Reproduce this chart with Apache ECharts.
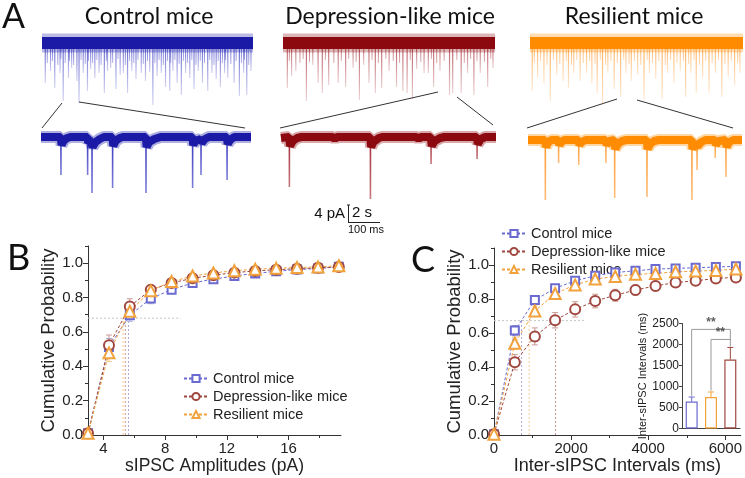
<!DOCTYPE html>
<html>
<head>
<meta charset="utf-8">
<title>sIPSC cumulative probability</title>
<script src="https://cdn.jsdelivr.net/npm/echarts@6/dist/echarts.min.js"></script>
<style>
    html, body { margin: 0; padding: 0; background: #fff; }
    #main { width: 745px; height: 478px; }
</style>
</head>
<body>
<div id="main"></div>
<script>
// ---- data ----
var groups = ['Control mice', 'Depression-like mice', 'Resilient mice'];

// panel A, long traces: [position %, spike depth]
var controlTopSpikes = [[1.5,40],[4,28],[6,45],[8.5,30],[10,58],[12.5,35],[14,25],[16.5,38],[17.5,60],[19.5,30],[21.5,48],[23,26],[25,35],[27,30],[29.5,50],[31,28],[32.5,25],[35,46],[37,32],[38.5,30],[40.5,50],[42.5,28],[44.5,36],[47,30],[49,38],[51,29],[52.5,62],[54.5,33],[56.5,30],[58.5,44],[60.5,48],[62,28],[64,40],[66,52],[68,30],[70,35],[72,46],[74,28],[76,40],[78.5,48],[80.5,30],[82.5,36],[84.5,44],[86.5,30],[88,35],[91,40],[93.5,53],[95.5,30],[97,52],[99,28]];
var controlTopSmall = [[2.5,20],[5,18],[7.5,22],[9,16],[11,20],[13,18],[15,22],[18.5,17],[20.5,21],[22,18],[24,20],[26,17],[28,22],[30.5,18],[33.5,20],[36,16],[39.5,22],[41.5,18],[43.5,20],[45.5,17],[48,21],[50,18],[53.5,20],[55.5,17],[57.5,22],[59.5,18],[61,20],[63,17],[65,21],[67,18],[69,20],[71,17],[73,22],[75,18],[77,20],[79.5,17],[81.5,22],[83.5,18],[85.5,20],[87,17],[89.5,21],[92,18],[94.5,20],[96,17],[98,22]];
var depressionTopSpikes = [[2,45],[4,33],[6,28],[11,58],[14,22],[16.5,40],[18.5,50],[21.5,42],[26,40],[29.5,44],[33,25],[36,57],[38,22],[40.5,40],[43.5,50],[46.5,45],[50,28],[53.5,44],[56.5,48],[58.5,50],[61,56],[63,26],[66.5,30],[68.5,30],[71,44],[74,28],[78.5,52],[80,50],[84,50],[87,30],[90,52],[93,30],[96.5,44],[99,25]];
var depressionTopSmall = [[3,18],[8,20],[9.5,16],[12.5,19],[20,17],[24,20],[27.5,18],[31,16],[34.5,19],[42,17],[45,20],[48.5,16],[52,18],[55,20],[60,17],[65,19],[70,16],[72.5,20],[76,18],[82,17],[85.5,20],[88.5,16],[91.5,18],[95,19],[98,16]];
var resilientTopSpikes = [[1,48],[3.5,35],[6.5,40],[9.5,58],[12.5,32],[15.5,38],[18,45],[20.5,30],[23.5,38],[26.5,30],[29,40],[31.5,50],[34,62],[36.5,30],[39.5,46],[42.5,54],[45,30],[47.5,38],[50.5,32],[53.5,57],[56,30],[59,36],[62,56],[64.5,30],[67.5,40],[70.5,28],[73,54],[75.5,30],[78,50],[81,35],[84,50],[87,30],[90,54],[93,34],[96,42],[98.5,30]];
var resilientTopSmall = [[2,20],[5,18],[8,22],[11,17],[14,21],[17,18],[19.5,22],[22,17],[25,20],[28,18],[30.5,21],[33,17],[35.5,22],[38,18],[41,20],[44,17],[46.5,21],[49,18],[52,22],[55,17],[57.5,20],[60.5,18],[63.5,22],[66,17],[69,20],[72,18],[74.5,21],[77,17],[79.5,22],[82.5,18],[85.5,20],[88.5,17],[91.5,21],[94.5,18],[97.5,20]];

// panel A, expanded traces: events [position %, depth] and slow baseline [position %, level]
var controlBottomSpikes = [[9.5,38],[22.2,38],[24.3,56],[34.1,51],[50,56],[72.2,51],[76.2,38],[88.6,43]];
var controlBottomBase = [[0,0],[9.4,0],[9.8,-8],[11,-3],[12.5,-1],[14,0],[22.1,0],[22.5,-6],[23.5,-3],[24.2,-2],[24.6,-10],[26,-5],[28,-2],[30,0],[34,0],[34.4,-9],[35.5,-4],[37.5,-1],[39,0],[49.9,0],[50.3,-10],[51.5,-5],[54,-2],[57,0],[72.1,0],[72.5,-8],[73.5,-4],[76.1,-2],[76.5,-6],[78,-2],[80,0],[88.5,0],[88.9,-7],[90,-3],[92,0],[100,0]];
var depressionBottomSpikes = [[3.9,50],[41.6,62],[69.8,27],[91.2,22]];
var depressionBottomBase = [[0,-1],[3.8,0],[4.2,-9],[5.5,-4],[7.5,-1],[9.5,0],[24,0],[25,-2],[26,0],[41.5,0],[41.9,-10],[43,-5],[45.5,-1],[47,0],[63,0],[64,-2],[65,0],[69.7,0],[70.1,-9],[71.5,-4],[74,-1],[76,0],[91.1,0],[91.5,-7],[93,-2],[95,0],[100,0]];
var resilientBottomSpikes = [[8.1,60],[14.3,23],[23.7,25],[36.4,23],[40.5,58],[55.6,57],[76.6,60],[79,30],[87.5,18],[92.5,37]];
var resilientBottomBase = [[0,0],[8,0],[8.4,-7],[9.5,-2],[11,0],[14.2,0],[14.6,-5],[15.5,-2],[17,0],[23.6,0],[24,-5],[25,-2],[27,0],[36.3,0],[36.7,-5],[38,-1],[40.4,0],[40.8,-9],[42,-4],[44,-1],[46,0],[55.5,0],[55.9,-9],[57,-4],[59,-1],[61,0],[76.5,0],[76.9,-9],[78,-4],[78.9,-2],[79.3,-6],[81,-2],[83,0],[87.4,0],[87.8,-5],[89,-1],[92.4,0],[92.8,-7],[94,-2],[96,0],[100,0]];

// panel B: sIPSC amplitudes (pA) vs cumulative probability
var bX = [3, 4.36, 5.71, 7.07, 8.42, 9.78, 11.13, 12.49, 13.84, 15.2, 16.55, 17.91, 19.26];
var bControl = [0.01, 0.512, 0.697, 0.794, 0.846, 0.885, 0.907, 0.926, 0.94, 0.953, 0.963, 0.969, 0.979];
var bDepression = [0.01, 0.522, 0.748, 0.845, 0.885, 0.912, 0.93, 0.945, 0.955, 0.962, 0.968, 0.973, 0.978];
var bResilient = [0.01, 0.478, 0.72, 0.84, 0.893, 0.925, 0.943, 0.956, 0.965, 0.97, 0.975, 0.978, 0.985];
var bControlErr = [0, 0.05, 0.035, 0.03, 0.02, 0.015, 0.012, 0.01, 0.008, 0.007, 0.006, 0.005, 0.005];
var bDepressionErr = [0, 0.06, 0.045, 0.025, 0.02, 0.015, 0.012, 0.01, 0.008, 0.007, 0.006, 0.005, 0.005];
var bResilientErr = [0, 0.05, 0.03, 0.02, 0.015, 0.012, 0.01, 0.008, 0.007, 0.006, 0.005, 0.005, 0.004];
var bMedianLevel = 0.68;
var bMedianX = [5.63, 5.42, 5.27];
var bMedianEnd = 9.0;

// panel C: inter-sIPSC intervals (ms) vs cumulative probability
var cX = [0, 540, 1060, 1585, 2105, 2625, 3145, 3670, 4190, 4710, 5230, 5755, 6275];
var cControl = [0.005, 0.614, 0.794, 0.863, 0.907, 0.937, 0.956, 0.966, 0.976, 0.98, 0.984, 0.988, 0.992];
var cDepression = [0.005, 0.428, 0.58, 0.675, 0.739, 0.788, 0.822, 0.853, 0.877, 0.897, 0.907, 0.921, 0.927];
var cResilient = [0.005, 0.54, 0.729, 0.832, 0.883, 0.917, 0.933, 0.945, 0.95, 0.96, 0.964, 0.968, 0.976];
var cControlErr = [0, 0.03, 0.025, 0.02, 0.015, 0.012, 0.01, 0.008, 0.007, 0.006, 0.005, 0.005, 0.004];
var cDepressionErr = [0, 0.045, 0.05, 0.045, 0.045, 0.04, 0.035, 0.03, 0.028, 0.025, 0.022, 0.02, 0.018];
var cResilientErr = [0, 0.035, 0.03, 0.025, 0.02, 0.015, 0.015, 0.012, 0.01, 0.01, 0.008, 0.008, 0.007];
var cMedianLevel = 0.673;
var cMedianX = [715, 1595, 912];
var cMedianEnd = 2330;

// inset: mean inter-sIPSC interval (ms) ± SEM, order control / resilient / depression
var insetNames = ['Control mice', 'Resilient mice', 'Depression-like mice'];
var insetValues = [640, 750, 1640];
var insetErr = [110, 120, 290];

// ---- styles ----
var FONT = '"Liberation Sans", Arial, sans-serif';
var traceColors = ['#1a1aa6', '#8c0a0f', '#ff8c00'];
var traceRGB = ['40,40,190', '160,30,40', '255,145,30'];
var plotColors = ['#6a6ad0', '#a04840', '#f2a23c'];
var errColors = ['#a8a8dc', '#c89a94', '#f6cc92'];
var symbols = ['emptyRect', 'emptyCircle', 'emptyTriangle'];
var symbolSizes = [8, 10, 11];

var chart = echarts.init(document.getElementById('main'));

var topSpikes = [controlTopSpikes, depressionTopSpikes, resilientTopSpikes];
var topSmall = [controlTopSmall, depressionTopSmall, resilientTopSmall];
var bottomSpikes = [controlBottomSpikes, depressionBottomSpikes, resilientBottomSpikes];
var bottomBase = [controlBottomBase, depressionBottomBase, resilientBottomBase];

function pairs(xs, ys) {
    return xs.map(function (x, i) { return [x, ys[i]]; });
}
function triples(xs, ys, es) {
    return xs.map(function (x, i) { return [x, ys[i], es[i]]; });
}
function fade(rgb, a0, a1) {
    return new echarts.graphic.LinearGradient(0, 0, 0, 1, [
        { offset: 0, color: 'rgba(' + rgb + ',' + a0 + ')' },
        { offset: 1, color: 'rgba(' + rgb + ',' + a1 + ')' }
    ]);
}

function errorBars(color, upOnly) {
    return function (params, api) {
        var x = api.value(0), y = api.value(1), e = api.value(2);
        if (!e) return null;
        var hi = api.coord([x, y + e]);
        var lo = api.coord([x, upOnly ? y : y - e]);
        var st = { stroke: color, lineWidth: 1 };
        var kids = [
            { type: 'line', shape: { x1: hi[0], y1: hi[1], x2: lo[0], y2: lo[1] }, style: st },
            { type: 'line', shape: { x1: hi[0] - 3, y1: hi[1], x2: hi[0] + 3, y2: hi[1] }, style: st }
        ];
        if (!upOnly) {
            kids.push({ type: 'line', shape: { x1: lo[0] - 3, y1: lo[1], x2: lo[0] + 3, y2: lo[1] }, style: st });
        }
        return { type: 'group', children: kids };
    };
}

// grids: 0-2 long traces, 3-5 expanded traces, 6 panel B, 7 panel C, 8 inset
var grids = [
    { left: 42, top: 34, width: 211, height: 73 },
    { left: 283, top: 34, width: 212, height: 73 },
    { left: 530, top: 34, width: 213, height: 73 },
    { left: 41, top: 124, width: 210, height: 80 },
    { left: 281, top: 124, width: 215, height: 80 },
    { left: 528, top: 127, width: 214, height: 80 },
    { left: 88, top: 246, width: 253, height: 189 },
    { left: 494, top: 248, width: 247.5, height: 187 },
    { left: 682, top: 323.5, width: 58, height: 105 }
];

var xAxes = [], yAxes = [], series = [];
for (var g = 0; g < 6; g++) {
    xAxes.push({ gridIndex: g, type: 'value', min: 0, max: 100, show: false });
    yAxes.push(g < 3
        ? { gridIndex: g, type: 'value', min: -64, max: 9, show: false }
        : { gridIndex: g, type: 'value', min: -67, max: 13, show: false });
}

var axisText = { fontFamily: FONT, fontSize: 15, color: '#222' };
var yLabels = [0, 0.2, 0.4, 0.6, 0.8, 1.0];
var yMinor = [0.1, 0.3, 0.5, 0.7, 0.9, 1.1];
function plain(v) { return String(v); }

function mainY(grid, nameGap) {
    return {
        gridIndex: grid, type: 'value', min: 0, max: 1.1,
        axisLine: { show: true, lineStyle: { color: '#333', width: 1 } },
        axisTick: { show: true, customValues: yLabels, length: 5, lineStyle: { color: '#333' } },
        axisLabel: Object.assign({ customValues: yLabels, margin: 5,
            formatter: function (v) { return v.toFixed(1); } }, axisText),
        splitLine: { show: false },
        name: 'Cumulative Probability', nameLocation: 'middle', nameGap: nameGap,
        nameTextStyle: { fontFamily: FONT, fontSize: 18.5, color: '#222' }
    };
}
function minorAxis(grid, type, min, max, values) {
    return {
        gridIndex: grid, type: 'value', min: min, max: max,
        position: type === 'x' ? 'bottom' : 'left',
        axisLine: { show: false },
        axisTick: { show: true, customValues: values, length: 3, lineStyle: { color: '#333' } },
        axisLabel: { show: false }, splitLine: { show: false }
    };
}

// panel B axes (x 6,7 / y 6,7)
xAxes.push({
    gridIndex: 6, type: 'value', min: 3, max: 19.4, position: 'bottom',
    axisLine: { show: true, onZero: false, lineStyle: { color: '#333' } },
    axisTick: { customValues: [4, 8, 12, 16], length: 5, lineStyle: { color: '#333' } },
    axisLabel: Object.assign({ customValues: [4, 8, 12, 16], margin: 6, formatter: plain }, axisText),
    splitLine: { show: false },
    name: 'sIPSC Amplitudes (pA)', nameLocation: 'middle', nameGap: 21,
    nameTextStyle: { fontFamily: FONT, fontSize: 17.5, color: '#222' }
});
xAxes.push(minorAxis(6, 'x', 3, 19.4, [6, 10, 14, 18]));
yAxes.push(mainY(6, 23));
yAxes.push(minorAxis(6, 'y', 0, 1.1, yMinor));

// panel C axes (x 8,9 / y 8,9)
xAxes.push({
    gridIndex: 7, type: 'value', min: 0, max: 6400, position: 'bottom',
    axisLine: { show: true, onZero: false, lineStyle: { color: '#333' } },
    axisTick: { customValues: [0, 2000, 4000, 6000], length: 5, lineStyle: { color: '#333' } },
    axisLabel: Object.assign({ customValues: [0, 2000, 4000, 6000], margin: 6, formatter: plain }, axisText),
    splitLine: { show: false },
    name: 'Inter-sIPSC Intervals (ms)', nameLocation: 'middle', nameGap: 21,
    nameTextStyle: { fontFamily: FONT, fontSize: 18, color: '#222' }
});
xAxes.push(minorAxis(7, 'x', 0, 6400, [1000, 3000, 5000]));
yAxes.push(mainY(7, 24));
yAxes.push(minorAxis(7, 'y', 0, 1.1, yMinor));

// inset axes (x 10 / y 10)
xAxes.push({
    gridIndex: 8, type: 'category', data: insetNames,
    axisLine: { show: true, lineStyle: { color: '#444' } },
    axisTick: { show: false }, axisLabel: { show: false }
});
yAxes.push({
    gridIndex: 8, type: 'value', min: 0, max: 2500, interval: 500,
    axisLine: { show: true, lineStyle: { color: '#444' } },
    axisTick: { show: true, length: 3, lineStyle: { color: '#444' } },
    axisLabel: { fontFamily: FONT, fontSize: 12, color: '#222', margin: 3, formatter: plain },
    splitLine: { show: false },
    name: 'Inter-sIPSC Intervals (ms)', nameLocation: 'middle', nameGap: 30,
    nameTextStyle: { fontFamily: FONT, fontSize: 11, color: '#222' }
});

// panel A series
for (var k = 0; k < 3; k++) {
    series.push({
        type: 'bar', xAxisIndex: k, yAxisIndex: k, barWidth: 1.2, barGap: '-100%', z: 1, silent: true,
        itemStyle: { color: fade(traceRGB[k], 0.75, 0.2) },
        data: topSpikes[k].map(function (s) { return [s[0], -s[1]]; })
    });
    series.push({
        type: 'bar', xAxisIndex: k, yAxisIndex: k, barWidth: 1, barGap: '-100%', z: 1, silent: true,
        itemStyle: { color: fade(traceRGB[k], 0.8, 0.35) },
        data: topSmall[k].map(function (s) { return [s[0], -s[1]]; })
    });
    // fuzzy edge + dense core of the noise band
    series.push({
        type: 'line', xAxisIndex: k, yAxisIndex: k, symbol: 'none', z: 2, silent: true,
        lineStyle: { color: traceColors[k], width: 19, opacity: 0.3 },
        data: [[0, 0], [100, 0]]
    });
    series.push({
        type: 'line', xAxisIndex: k, yAxisIndex: k, symbol: 'none', z: 2, silent: true,
        lineStyle: { color: traceColors[k], width: 12 },
        data: [[0, 0], [100, 0]]
    });
    series.push({
        type: 'bar', xAxisIndex: k + 3, yAxisIndex: k + 3, barWidth: 1.6, z: 1, silent: true,
        itemStyle: { color: fade(traceRGB[k], 0.95, 0.6) },
        data: bottomSpikes[k].map(function (s) { return [s[0], -s[1]]; })
    });
    series.push({
        type: 'line', xAxisIndex: k + 3, yAxisIndex: k + 3, symbol: 'none', z: 2, silent: true,
        lineStyle: { color: traceColors[k], width: 12, opacity: 0.35 },
        data: bottomBase[k]
    });
    series.push({
        type: 'line', xAxisIndex: k + 3, yAxisIndex: k + 3, symbol: 'none', z: 2, silent: true,
        lineStyle: { color: traceColors[k], width: 8 },
        data: bottomBase[k]
    });
}

// panels B and C
function addPanel(xi, yi, xs, ys, errs, medX, medLevel, medEnd, xmin) {
    // dotted median guides
    series.push({
        type: 'line', xAxisIndex: xi, yAxisIndex: yi, symbol: 'none', silent: true,
        lineStyle: { color: '#c8c8c8', width: 1, type: [2, 2] },
        data: [[xmin, medLevel], [medEnd, medLevel]]
    });
    for (var i = 0; i < 3; i++) {
        series.push({
            type: 'line', xAxisIndex: xi, yAxisIndex: yi, symbol: 'none', silent: true,
            lineStyle: { color: errColors[i], width: 1, type: [2, 2] },
            data: [[medX[i], 0], [medX[i], medLevel]]
        });
    }
    for (var i = 0; i < 3; i++) {
        series.push({
            type: 'custom', xAxisIndex: xi, yAxisIndex: yi, silent: true,
            renderItem: errorBars(errColors[i], false),
            data: triples(xs, ys[i], errs[i]), z: 3
        });
    }
    for (var i = 0; i < 3; i++) {
        series.push({
            name: groups[i], type: 'line', xAxisIndex: xi, yAxisIndex: yi,
            symbol: symbols[i], symbolSize: symbolSizes[i], z: 4, silent: true,
            itemStyle: { color: plotColors[i], borderWidth: 1.2 },
            lineStyle: { color: plotColors[i], width: 1, type: [3, 2] },
            data: pairs(xs, ys[i])
        });
    }
}
addPanel(6, 6, bX, [bControl, bDepression, bResilient],
    [bControlErr, bDepressionErr, bResilientErr], bMedianX, bMedianLevel, bMedianEnd, 3);
addPanel(8, 8, cX, [cControl, cDepression, cResilient],
    [cControlErr, cDepressionErr, cResilientErr], cMedianX, cMedianLevel, cMedianEnd, 0);

// inset bars
var insetColors = [plotColors[0], plotColors[2], plotColors[1]];
series.push({
    type: 'bar', xAxisIndex: 10, yAxisIndex: 10, barWidth: 12, silent: true,
    data: insetValues.map(function (v, i) {
        return { value: v, itemStyle: { color: '#fff', borderColor: insetColors[i], borderWidth: 1.2 } };
    })
});
series.push({
    type: 'custom', xAxisIndex: 10, yAxisIndex: 10, silent: true, z: 3,
    renderItem: function (params, api) {
        return errorBars(insetColors[params.dataIndex], true)(params, api);
    },
    data: insetValues.map(function (v, i) { return [i, v, insetErr[i]]; })
});
// significance brackets
series.push({
    type: 'line', xAxisIndex: 10, yAxisIndex: 10, symbol: 'none', silent: true,
    lineStyle: { color: '#999', width: 1 },
    data: [[0, 780], [0, 2360], [2, 2360], [2, 1950]]
});
series.push({
    type: 'line', xAxisIndex: 10, yAxisIndex: 10, symbol: 'none', silent: true,
    lineStyle: { color: '#999', width: 1 },
    data: [[1, 900], [1, 2120], [2, 2120]]
});
series.push({
    type: 'scatter', xAxisIndex: 10, yAxisIndex: 10, symbolSize: 1, silent: true, z: 5,
    itemStyle: { color: 'rgba(0,0,0,0)' },
    label: { show: true, position: 'top', distance: 0, formatter: '**',
        fontFamily: FONT, fontSize: 12, fontWeight: 'bold', color: '#333' },
    data: [
        { value: [1, 2360] },
        { value: [2, 2120], label: { offset: [-10, 0] } }
    ]
});

// text, scale bar and zoom connectors
function txt(x, y, s, size, family, align) {
    return {
        type: 'text', x: x, y: y, silent: true,
        style: { text: s, font: size + 'px ' + family, fill: '#111',
            textAlign: align || 'left', textVerticalAlign: 'middle' }
    };
}
function seg(x1, y1, x2, y2, color) {
    return { type: 'line', silent: true, shape: { x1: x1, y1: y1, x2: x2, y2: y2 },
        style: { stroke: color || '#333', lineWidth: 1 } };
}
var LATO = 'Lato, "Open Sans", sans-serif';
var graphics = [
    txt(2, 17, 'A', 34, LATO),
    txt(7, 258, 'B', 36, LATO),
    txt(411, 260, 'C', 36, LATO),
    txt(149, 17, groups[0], 23, LATO, 'center'),
    txt(390, 17, groups[1], 23, LATO, 'center'),
    txt(634, 17, groups[2], 23, LATO, 'center'),
    seg(62, 103, 42, 128), seg(79, 102, 245, 128),
    seg(280, 128, 438, 92), seg(457, 97, 493, 125),
    seg(527, 128, 617, 99), seg(637, 100, 733, 128),
    txt(345, 214, '4 pA', 15, FONT, 'right'),
    seg(348.5, 205, 348.5, 223, '#222'),
    seg(347, 205, 350, 205, '#222'),
    txt(352, 213, '2 s', 15, FONT, 'left'),
    seg(348.5, 222.5, 380, 222.5, '#222'),
    txt(366, 230, '100 ms', 11, FONT, 'center')
];

var option = {
    animation: false,
    backgroundColor: '#fff',
    textStyle: { fontFamily: FONT },
    grid: grids,
    xAxis: xAxes,
    yAxis: yAxes,
    legend: [
        { data: groups, orient: 'vertical', left: 178, top: 366, itemWidth: 24, itemHeight: 9,
          itemGap: 3, selectedMode: false, textStyle: { fontFamily: FONT, fontSize: 14.5, color: '#222' } },
        { data: groups, orient: 'vertical', left: 496, top: 221, itemWidth: 24, itemHeight: 9,
          itemGap: 3, selectedMode: false, textStyle: { fontFamily: FONT, fontSize: 14.5, color: '#222' } }
    ],
    graphic: graphics,
    series: series
};
chart.setOption(option);
</script>
</body>
</html>
